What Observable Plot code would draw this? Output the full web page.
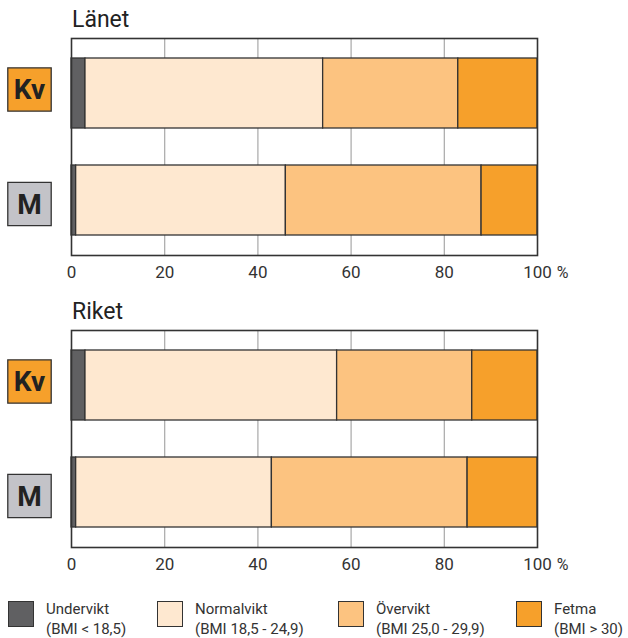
<!DOCTYPE html>
<html>
<head>
<meta charset="utf-8">
<script src="https://cdn.jsdelivr.net/npm/d3@7"></script>
<script src="https://cdn.jsdelivr.net/npm/@observablehq/plot@0.6"></script>
<style>
  body { margin: 0; background: #fff; font-family: Roboto, "Noto Sans", sans-serif; }
  #root { position: relative; width: 628px; height: 638px; overflow: hidden; }
  .panel { position: absolute; left: 0; width: 628px; }
  .title { position: absolute; left: 72px; font-size: 23px; color: #222; line-height: 1; }
  .legend-item { position: absolute; top: 601px; display: flex; align-items: flex-start; }
  .sw { width: 24px; height: 24px; border: 1px solid #333; margin-right: 12px; margin-top: 0px; }
  .lt { font-size: 15px; line-height: 20px; color: #333; margin-top: -2px; }
</style>
</head>
<body>
<div id="root"></div>
<script>
const categories = ["Undervikt", "Normalvikt", "Övervikt", "Fetma"];
const legendSub = ["(BMI < 18,5)", "(BMI 18,5 - 24,9)", "(BMI 25,0 - 29,9)", "(BMI > 30)"];
const colors = ["#606062", "#fee8d0", "#fcc380", "#f6a02b"];
const sexes = ["Kv", "M"];
const sexColors = ["#f6a02b", "#c3c3c8"];
const xTicks = [0, 20, 40, 60, 80, 100];
const gridTicks = [20, 40, 60, 80];

const panelTitles = ["Länet", "Riket"];
const lanetKv = [3, 51, 29, 17];
const lanetM = [1, 45, 42, 12];
const riketKv = [3, 54, 29, 14];
const riketM = [1, 42, 42, 15];

function rows(kv, m) {
  const out = [];
  [kv, m].forEach((vals, si) => {
    vals.forEach((v, ci) => out.push({sex: sexes[si], cat: categories[ci], value: v}));
  });
  return out;
}

function labelMarks(i, dy) {
  const lab = [{sex: sexes[i], color: sexColors[i]}];
  return [
    Plot.dot(lab, {y: "sex", frameAnchor: "left", dx: -42, dy, symbol: "square", r: 24.5, fill: "color", stroke: "#333", strokeWidth: 1.3}),
    Plot.text(lab, {y: "sex", frameAnchor: "left", textAnchor: "middle", dx: -42, dy: dy + 1, text: "sex", fontSize: 28, fontWeight: "bold", fill: "#222"})
  ];
}

function makePlot(data) {
  return Plot.plot({
    width: 628,
    height: 292,
    marginTop: 38,
    marginBottom: 37,
    marginLeft: 71,
    marginRight: 91,
    style: {fontFamily: "Roboto, sans-serif", background: "transparent", overflow: "visible"},
    x: {domain: [0, 100], axis: null},
    y: {domain: sexes, paddingInner: 0.346, paddingOuter: 0.187, axis: null},
    color: {domain: categories, range: colors},
    marks: [
      Plot.ruleX(gridTicks, {stroke: "#a8a8a8", strokeWidth: 1.2}),
      Plot.barX(data, Plot.stackX({
        x: "value", y: "sex", fill: "cat", z: "cat", order: categories,
        stroke: "#333", strokeWidth: 1.3
      })),
      Plot.frame({stroke: "#333", strokeWidth: 1.6}),
      Plot.axisX({ticks: xTicks, tickSize: 0, tickPadding: 10, fontSize: 17, fill: "#333", label: null}),
      Plot.text([100], {x: d => d, frameAnchor: "bottom", lineAnchor: "top", dy: 11, dx: 25, text: () => "%", fontSize: 16, fill: "#333"}),
      ...labelMarks(0, -4),
      ...labelMarks(1, 3.5)
    ]
  });
}

const root = document.getElementById("root");
const datasets = [rows(lanetKv, lanetM), rows(riketKv, riketM)];
datasets.forEach((d, i) => {
  const top = i * 292;
  const panel = document.createElement("div");
  panel.className = "panel";
  panel.style.top = top + "px";
  panel.appendChild(makePlot(d));
  root.appendChild(panel);
  const t = document.createElement("div");
  t.className = "title";
  t.style.top = (top + 8) + "px";
  t.textContent = panelTitles[i];
  root.appendChild(t);
});

const legendX = [8, 157, 338, 516];
categories.forEach((c, i) => {
  const item = document.createElement("div");
  item.className = "legend-item";
  item.style.left = legendX[i] + "px";
  item.innerHTML = `<div class="sw" style="background:${colors[i]}"></div><div class="lt">${c}<br>${legendSub[i]}</div>`;
  root.appendChild(item);
});
</script>
</body>
</html>
